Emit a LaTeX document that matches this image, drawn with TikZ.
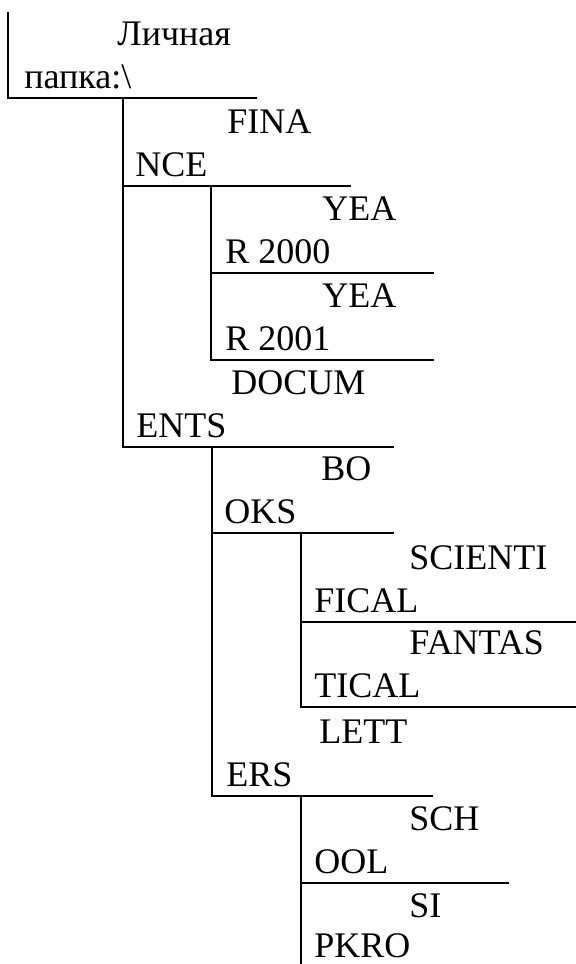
\documentclass[tikz,border=0pt]{standalone}
\usepackage{fontspec}
\setmainfont{Liberation Serif}
\usetikzlibrary{positioning}

\begin{document}
\begin{tikzpicture}[x=0.5pt,y=-0.5pt,
    lbl/.style={font=\fontsize{18pt}{21pt}\selectfont,inner sep=0pt,anchor=base west},
    rule/.style={line width=1pt,line cap=rect}]
  \useasboundingbox (0,0) rectangle (575,964);

  % cell corners: top of left border, right end of bottom border
  \coordinate (rootTop) at (8,13);    \coordinate (rootEnd) at (256,98);
  \coordinate (finTop) at (123,98);   \coordinate (finEnd) at (350,186);
  \coordinate (yaTop) at (211,186);   \coordinate (yaEnd) at (433,273);
  \coordinate (ybTop) at (211,273);   \coordinate (ybEnd) at (433,360);
  \coordinate (docTop) at (123,186);  \coordinate (docEnd) at (393,447);
  \coordinate (bookTop) at (212,447); \coordinate (bookEnd) at (393,533);
  \coordinate (sciTop) at (301,533);  \coordinate (sciEnd) at (575,622);
  \coordinate (fanTop) at (301,622);  \coordinate (fanEnd) at (575,707);
  \coordinate (letTop) at (212,533);  \coordinate (letEnd) at (432,796);
  \coordinate (schTop) at (301,796);  \coordinate (schEnd) at (508,883);
  \coordinate (sipTop) at (301,883);  \coordinate (sipEnd) at (301,964);

  % labels
  \node[lbl] (root1) at (117,45) {Личная};
  \node[lbl] (root2) at (24,88) {папка:\textbackslash};
  \node[lbl] (fin1) at (227,133) {FINA};
  \node[lbl] (fin2) at (135,176) {NCE};
  \node[lbl] (ya1) at (322,220) {YEA};
  \node[lbl] (ya2) at (225,263) {R 2000};
  \node[lbl] (yb1) at (322,307) {YEA};
  \node[lbl] (yb2) at (225,350) {R 2001};
  \node[lbl] (doc1) at (231,394) {DOCUM};
  \node[lbl] (doc2) at (136,437) {ENTS};
  \node[lbl] (book1) at (321,480) {BO};
  \node[lbl] (book2) at (224,523) {OKS};
  \node[lbl] (sci1) at (409,569) {SCIENTI};
  \node[lbl] (sci2) at (314,612) {FICAL};
  \node[lbl] (fan1) at (409,654) {FANTAS};
  \node[lbl] (fan2) at (314,697) {TICAL};
  \node[lbl] (let1) at (319,743) {LETT};
  \node[lbl] (let2) at (226,786) {ERS};
  \node[lbl] (sch1) at (409,830) {SCH};
  \node[lbl] (sch2) at (314,873) {OOL};
  \node[lbl] (sip1) at (409,917) {SI};
  \node[lbl] (sip2) at (314,957) {PKRO};

  % borders
  \draw[rule] (rootTop) |- (rootEnd);
  \draw[rule] (finTop) |- (finEnd);
  \draw[rule] (yaTop) |- (yaEnd);
  \draw[rule] (ybTop) |- (ybEnd);
  \draw[rule] (docTop) |- (docEnd);
  \draw[rule] (bookTop) |- (bookEnd);
  \draw[rule] (sciTop) |- (sciEnd);
  \draw[rule] (fanTop) |- (fanEnd);
  \draw[rule] (letTop) |- (letEnd);
  \draw[rule] (schTop) |- (schEnd);
  \draw[rule] (sipTop) -- (sipEnd);
\end{tikzpicture}
\end{document}
